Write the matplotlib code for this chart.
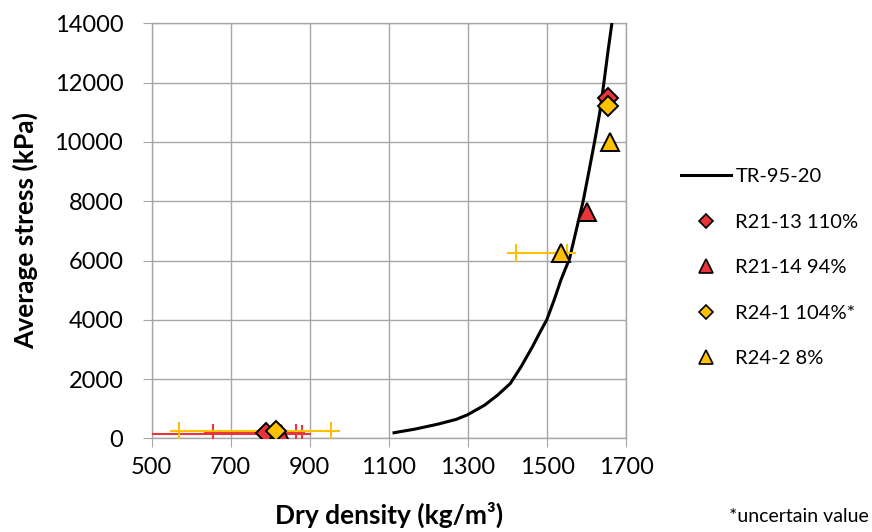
import numpy as np
import matplotlib
matplotlib.use("Agg")
import matplotlib.pyplot as plt
from matplotlib.lines import Line2D

plt.rcParams['font.family'] = ['Lato', 'DejaVu Sans']

# TR-95-20 model curve
curve_x = [1113, 1165, 1224, 1270, 1298, 1342, 1375, 1407, 1434, 1463, 1485, 1499,
           1518, 1535, 1557, 1574, 1591, 1605, 1620, 1633, 1644, 1654, 1664]
curve_y = [190, 310, 480, 640, 790, 1120, 1460, 1850, 2410, 3090, 3650, 3990,
           4670, 5340, 6070, 7030, 7980, 8940, 9990, 10960, 12010, 13040, 14000]

# samples: dry density, average stress, x error bounds (nan = no bar)
r21_13_x = [790, 1655]
r21_13_y = [180, 11500]
r21_13_lo = [655, np.nan]
r21_13_hi = [866, np.nan]

r21_14_x = [828, 1600]
r21_14_y = [150, 7650]
r21_14_lo = [450, np.nan]
r21_14_hi = [879, np.nan]

r24_1_x = [815, 1655]
r24_1_y = [250, 11200]
r24_1_lo = [570, np.nan]
r24_1_hi = [953, np.nan]

r24_2_x = [1535, 1660]
r24_2_y = [6250, 10000]
r24_2_lo = [1421, np.nan]
r24_2_hi = [1551, np.nan]

labels = ['TR-95-20', 'R21-13 110%', 'R21-14 94%', 'R24-1 104%*', 'R24-2 8%']
xticks = [500, 700, 900, 1100, 1300, 1500, 1700]
yticks = [0, 2000, 4000, 6000, 8000, 10000, 12000, 14000]

RED = '#E8353A'
YEL = '#FFC000'
GRID = '#A6A6A6'

fig = plt.figure(figsize=(8.72, 5.32), dpi=100)
ax = fig.add_axes([0.174, 0.176, 0.544, 0.780])

ax.plot(curve_x, curve_y, color='black', lw=2.2, zorder=3)


def xbars(x, y, lo, hi, color):
    x = np.array(x, float)
    y = np.array(y, float)
    lo = np.array(lo, float)
    hi = np.array(hi, float)
    ok = ~np.isnan(lo)
    ax.errorbar(x[ok], y[ok], xerr=[x[ok] - lo[ok], hi[ok] - x[ok]], fmt='none',
                ecolor=color, elinewidth=1.5, capsize=0, zorder=4)
    ax.plot(np.r_[lo[ok], hi[ok]], np.r_[y[ok], y[ok]], linestyle='none',
            marker='+', ms=13, mew=1.5, color=color, zorder=4)


xbars(r21_13_x, r21_13_y, r21_13_lo, r21_13_hi, RED)
xbars(r21_14_x, r21_14_y, r21_14_lo, r21_14_hi, RED)
xbars(r24_1_x, r24_1_y, r24_1_lo, r24_1_hi, YEL)
xbars(r24_2_x, r24_2_y, r24_2_lo, r24_2_hi, YEL)

mk = dict(linestyle='none', markeredgecolor='black', markeredgewidth=1.4, zorder=5)
ax.plot(r21_13_x, r21_13_y, marker='D', ms=10, markerfacecolor=RED, **mk)
ax.plot(r21_14_x, r21_14_y, marker='^', ms=13, markerfacecolor=RED, **mk)
ax.plot(r24_1_x, r24_1_y, marker='D', ms=10, markerfacecolor=YEL, **mk)
ax.plot(r24_2_x, r24_2_y, marker='^', ms=13, markerfacecolor=YEL, **mk)

ax.set_xlim(500, 1700)
ax.set_ylim(0, 14000)
ax.set_xticks(xticks)
ax.set_yticks(yticks)
ax.grid(True, color=GRID, lw=1)
ax.set_axisbelow(True)
for s in ax.spines.values():
    s.set_color(GRID)
    s.set_linewidth(1)
ax.tick_params(axis='both', direction='out', length=6.5, color=GRID, labelsize=17)
ax.tick_params(axis='y', pad=14)
ax.tick_params(axis='x', pad=7)

ax.set_xlabel('Dry density (kg/m³)', fontsize=19, fontweight='bold', va='center')
ax.set_ylabel('Average stress (kPa)', fontsize=19, fontweight='bold', va='center')
ax.xaxis.set_label_coords(0.5, -0.185)
ax.yaxis.set_label_coords(-0.267, 0.5)

# legend with smaller markers, like Excel
handles = [
    Line2D([], [], color='black', lw=2.2),
    Line2D([], [], linestyle='none', marker='D', ms=7, markerfacecolor=RED, markeredgecolor='black', markeredgewidth=1.2),
    Line2D([], [], linestyle='none', marker='^', ms=9.5, markerfacecolor=RED, markeredgecolor='black', markeredgewidth=1.2),
    Line2D([], [], linestyle='none', marker='D', ms=7, markerfacecolor=YEL, markeredgecolor='black', markeredgewidth=1.2),
    Line2D([], [], linestyle='none', marker='^', ms=9.5, markerfacecolor=YEL, markeredgecolor='black', markeredgewidth=1.2),
]
fig.legend(handles, labels, loc='upper left', bbox_to_anchor=(681 / 872, 1 - 168 / 532),
           frameon=False, fontsize=14.5, handlelength=2.5, handletextpad=0.2,
           labelspacing=1.41, borderpad=0, borderaxespad=0)

fig.text(729 / 872, 1 - 517 / 532, '*uncertain value', fontsize=14, va='center', ha='left')

fig.savefig('out.png', dpi=100)
